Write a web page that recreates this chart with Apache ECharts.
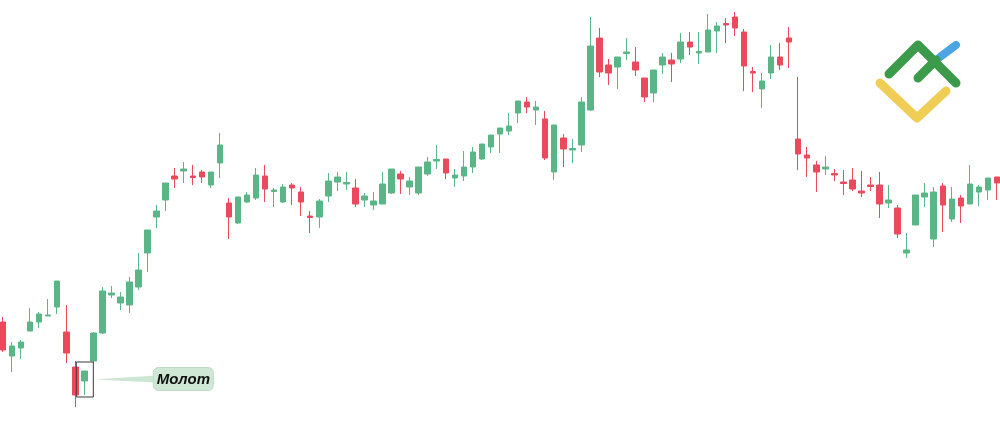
<!DOCTYPE html>
<html>
<head>
<meta charset="utf-8">
<script src="https://cdn.jsdelivr.net/npm/echarts@6/dist/echarts.min.js"></script>
<style>
  html, body { margin: 0; padding: 0; background: #fff; }
  #chart { width: 1000px; height: 431px; }
</style>
</head>
<body>
<div id="chart"></div>
<script>
// price values (arbitrary units)
const opens = [109, 75, 83, 100, 109, 115, 124, 99, 64, 50, 70, 98, 136, 128, 126, 144, 178, 214, 231, 255,
  260, 255, 259, 246, 268, 228, 208, 229, 233, 255, 239.5, 229, 246, 239, 215, 214, 235, 249, 247, 243,
  231, 226, 227, 238, 257, 244, 238, 257, 270, 272, 253, 255, 264, 272, 284, 297, 300, 318, 329, 321,
  312, 259, 293, 281, 286, 321, 393, 366, 364, 377.5, 369, 353, 338, 366, 371, 372, 389, 378, 379, 400,
  407.5, 414, 399, 359.5, 342, 358, 374, 393, 292, 276, 266, 262, 257.5, 249, 251, 240, 246, 246, 228, 223,
  178, 206, 234, 192, 245, 212, 233, 227, 239, 241, 254];
const closes = [81, 85, 89, 109, 117, 116, 150, 78, 36, 60, 98, 140, 138, 134, 149, 161, 201, 220, 248, 252,
  262, 253.5, 254, 259, 286, 214, 234, 236, 256, 242, 241, 244, 243, 229, 213.5, 230, 250, 254, 248.5, 227,
  235, 230, 247, 262, 252, 250, 264, 269, 271.5, 258, 256, 264, 279, 287, 296, 303, 305, 330, 324, 324,
  273, 306, 282, 282.5, 329, 385, 359, 358, 374, 379, 361, 334, 361, 374, 367, 389, 384, 379.5, 401, 405,
  406, 403, 365, 358, 350, 374, 366, 389, 277, 273, 259, 264, 256, 247.5, 242, 238, 244.5, 227, 231, 197,
  181, 236, 238, 239, 226, 232, 225, 247, 244, 253, 248];
const lows = [79, 59, 72, 100, 103, 115, 117, 68, 24, 36, 69, 97, 133, 121, 118, 141, 159, 203, 220, 243,
  248, 246, 248, 243, 253, 192, 207, 228, 231, 229, 224, 228, 226, 215, 198, 203, 229, 240, 241, 224,
  224, 221, 227, 237, 237, 236, 236, 255, 262, 252, 244, 250, 258, 271, 278, 278, 296, 308, 318, 306,
  271, 251, 264, 268, 279, 320, 354, 346, 342, 371, 355, 329, 329, 357, 349, 368, 376, 367, 379, 378,
  388, 395, 340, 339, 323, 352, 361, 363, 261, 254, 239, 256, 250, 236, 240, 234, 240, 213, 223, 193,
  173, 206, 224, 184, 199, 209, 208, 227, 225, 231, 231];
const highs = [114, 89, 91, 123, 119, 132, 150, 126, 70, 60, 99, 144, 145, 139, 154, 178, 201, 226, 248, 263,
  269, 266, 261, 259, 298, 233, 234, 239, 263, 266, 243, 247, 248, 244, 220, 232, 258, 259, 259, 252,
  238, 239, 259, 262, 260, 254, 264, 274, 286, 272, 262, 280, 284, 287, 296, 303, 318, 330, 334, 330,
  320, 306, 297, 292, 334, 414, 403, 372, 374, 393, 384, 353, 361, 378, 378, 398, 399, 399, 417, 409,
  413, 419, 402, 364, 358, 386, 388, 404, 354, 284, 270, 275, 262, 261, 263, 260, 254, 259, 246, 226,
  198, 236, 248, 244, 248, 244, 236, 266, 246, 253, 254];
const categories = opens.map((_, i) => String(i + 1));

const hammerIndex = 9;
const hammerLabel = 'Молот';

const upColor = '#5ab687';
const downColor = '#eb4a5d';

const chart = echarts.init(document.getElementById('chart'));

const candleData = opens.map((o, i) => [o, closes[i], lows[i], highs[i]]);

chart.setOption({
  animation: false,
  backgroundColor: '#ffffff',
  grid: { left: 3, right: 3, top: 0, bottom: 0 },
  xAxis: {
    type: 'category',
    data: categories,
    boundaryGap: false,
    show: false
  },
  yAxis: {
    type: 'value',
    min: 0,
    max: 431,
    show: false
  },
  series: [{
    type: 'candlestick',
    data: candleData,
    barWidth: 6,
    itemStyle: {
      color: upColor,
      color0: downColor,
      borderColor: upColor,
      borderColor0: downColor,
      borderWidth: 1
    }
  }]
});

// annotation box around the hammer candle and its label
function drawAnnotation() {
  const left = chart.convertToPixel({ seriesIndex: 0 }, [hammerIndex - 1, 0])[0] + 1;
  const right = chart.convertToPixel({ seriesIndex: 0 }, [hammerIndex, 0])[0] + 9;
  const top = chart.convertToPixel({ seriesIndex: 0 }, [hammerIndex, highs[hammerIndex] + 9])[1];
  const bottom = chart.convertToPixel({ seriesIndex: 0 }, [hammerIndex, lows[hammerIndex] - 2])[1];
  const midY = (top + bottom) / 2;
  const labelX = right + 60;

  chart.setOption({
    graphic: [
      {
        type: 'rect',
        shape: { x: left, y: top, width: right - left, height: bottom - top },
        style: { fill: null, stroke: '#3a3a3a', lineWidth: 1 },
        z: 100
      },
      {
        type: 'polygon',
        shape: { points: [[right + 1, midY], [labelX + 2, midY - 4], [labelX + 2, midY + 3]] },
        style: { fill: '#cde6d4' },
        z: 100
      },
      {
        type: 'rect',
        shape: { x: labelX, y: midY - 12, width: 60, height: 23, r: 5 },
        style: { fill: '#cfe8d6', stroke: '#bcdcc6', lineWidth: 1 },
        z: 100
      },
      {
        type: 'text',
        x: labelX + 30,
        y: midY,
        style: {
          text: hammerLabel,
          fill: '#111',
          font: 'italic bold 15px "Liberation Sans", Arial, sans-serif',
          align: 'center',
          verticalAlign: 'middle'
        },
        z: 101
      },
      // logo
      {
        type: 'polyline',
        shape: { points: [[889, 74], [918, 45], [956, 83]] },
        style: { stroke: '#3c9a4b', lineWidth: 9, lineCap: 'round', lineJoin: 'round', fill: null },
        z: 100
      },
      {
        type: 'polyline',
        shape: { points: [[918, 78], [936, 60]] },
        style: { stroke: '#3c9a4b', lineWidth: 9, lineCap: 'round', fill: null },
        z: 100
      },
      {
        type: 'polyline',
        shape: { points: [[940, 57], [956, 45]] },
        style: { stroke: '#4aa5e2', lineWidth: 8, lineCap: 'round', fill: null },
        z: 99
      },
      {
        type: 'polyline',
        shape: { points: [[880, 83], [917, 118], [946, 91]] },
        style: { stroke: '#f0cd55', lineWidth: 9, lineCap: 'round', lineJoin: 'round', fill: null },
        z: 100
      }
    ]
  });
}

drawAnnotation();
window.addEventListener('resize', () => { chart.resize(); drawAnnotation(); });
</script>
</body>
</html>
